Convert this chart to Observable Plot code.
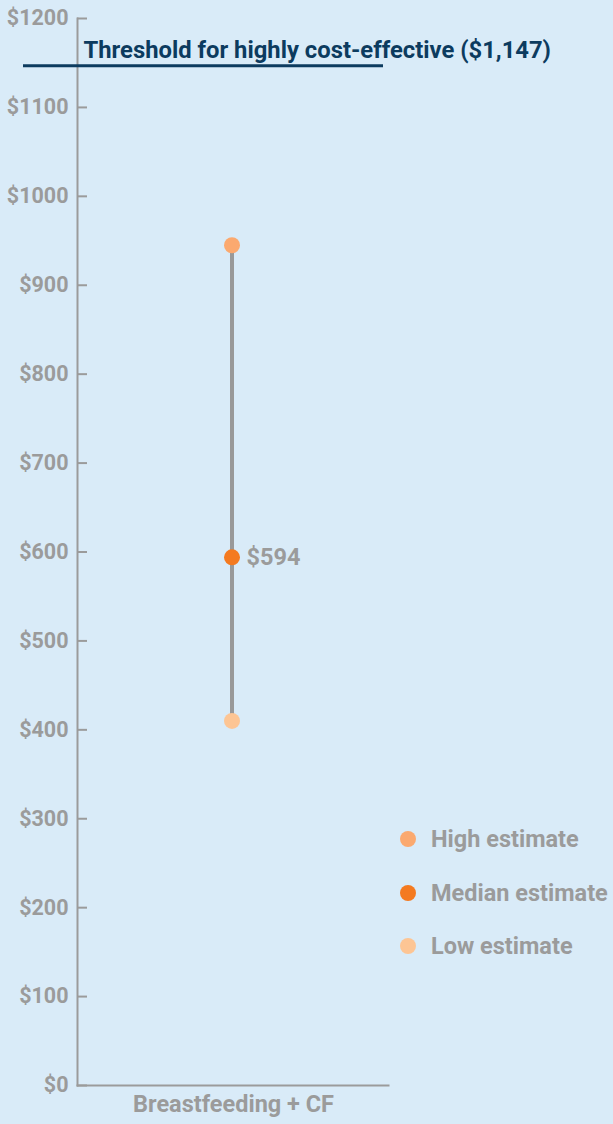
<!DOCTYPE html>
<html>
<head>
<meta charset="utf-8">
<script src="https://cdn.jsdelivr.net/npm/d3@7"></script>
<script src="https://cdn.jsdelivr.net/npm/@observablehq/plot@0.6"></script>
<style>
  html, body { margin: 0; padding: 0; background: #d9ebf8; }
  #wrap { position: relative; width: 613px; height: 1124px; }
  #legend { position: absolute; left: 400px; top: 825px; font-family: Roboto, sans-serif; font-weight: 700; font-size: 23.5px; color: #9b9b9b; }
  #legend .row { display: flex; align-items: center; height: 28px; margin-bottom: 25.5px; }
  #legend .sw { width: 16px; height: 16px; border-radius: 50%; margin-right: 15px; }
</style>
</head>
<body>
<div id="wrap"><div id="legend"></div></div>
<script>
const categories = ["Breastfeeding + CF"];
const highValues = [945];
const medianValues = [594];
const lowValues = [410];
const threshold = 1147;
const thresholdLabel = "Threshold for highly cost-effective ($1,147)";
const yTicks = [0, 100, 200, 300, 400, 500, 600, 700, 800, 900, 1000, 1100, 1200];
const legendLabels = ["High estimate", "Median estimate", "Low estimate"];
const legendColors = ["#fba96f", "#f47a20", "#fdc594"];

const rows = categories.map((c, i) => ({cat: c, high: highValues[i], median: medianValues[i], low: lowValues[i]}));
const gray = "#9b9b9b";
const font = "Roboto, sans-serif";

const chart = Plot.plot({
  width: 613,
  height: 1124,
  marginLeft: 77,
  marginRight: 225,
  marginTop: 18,
  marginBottom: 39,
  style: {background: "transparent", fontFamily: font},
  x: {type: "band", domain: categories},
  y: {domain: [0, 1200]},
  marks: [
    Plot.frame({anchor: "left", stroke: gray, strokeWidth: 2}),
    Plot.frame({anchor: "bottom", stroke: gray, strokeWidth: 2}),
    Plot.axisY({ticks: yTicks, tickFormat: d => "$" + d, tickSize: -10, tickPadding: 19,
      stroke: gray, strokeWidth: 2, strokeOpacity: 1, fill: gray, fontSize: 21.5, fontWeight: 700, label: null}),
    Plot.axisX({tickSize: 0, tickPadding: 10, stroke: gray,
      fill: gray, fontSize: 23.5, fontWeight: 700, label: null}),
    Plot.ruleY([threshold], {stroke: "#0c3b5f", strokeWidth: 3, insetLeft: -54, insetRight: 5}),
    Plot.text([thresholdLabel], {y: () => threshold, frameAnchor: "left", textAnchor: "start", lineAnchor: "bottom",
      dx: 6, dy: -8, fill: "#0c3b5f", fontSize: 23.8, fontWeight: 700, text: d => d}),
    Plot.ruleX(rows, {x: "cat", y1: "low", y2: "high", dx: -1.5, stroke: "#999999", strokeWidth: 4}),
    Plot.dot(rows, {x: "cat", y: "high", dx: -1.5, r: 8, fill: legendColors[0]}),
    Plot.dot(rows, {x: "cat", y: "low", dx: -1.5, r: 8, fill: legendColors[2]}),
    Plot.dot(rows, {x: "cat", y: "median", dx: -1.5, r: 8, fill: legendColors[1]}),
    Plot.text(rows, {x: "cat", y: "median", text: d => "$" + d.median, textAnchor: "start", dx: 13,
      fill: gray, fontSize: 23.5, fontWeight: 700})
  ]
});
document.getElementById("wrap").prepend(chart);

const legend = document.getElementById("legend");
legendLabels.forEach((l, i) => {
  const row = document.createElement("div");
  row.className = "row";
  row.innerHTML = `<span class="sw" style="background:${legendColors[i]}"></span><span>${l}</span>`;
  legend.appendChild(row);
});
</script>
</body>
</html>
